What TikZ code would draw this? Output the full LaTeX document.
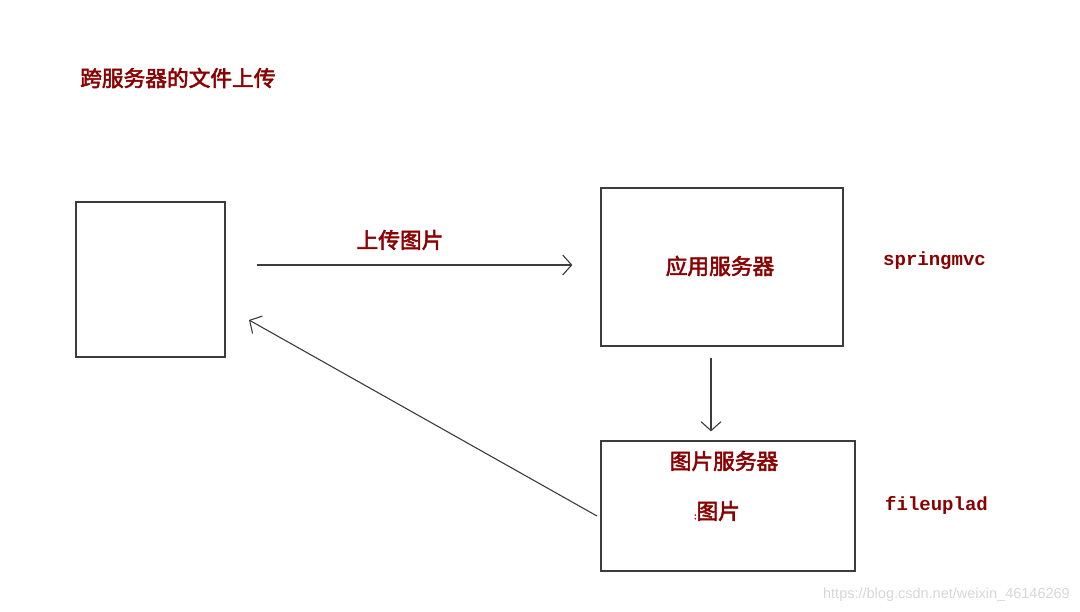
\documentclass[tikz,border=0pt]{standalone}
\usepackage{fontspec}
\newfontfamily\cjk{Noto Sans CJK SC}[AutoFakeBold=2.5]
\newfontfamily\monob{Liberation Mono}
\setsansfont{Liberation Sans}
\usetikzlibrary{arrows.meta}
\definecolor{dred}{RGB}{139,0,0}
\definecolor{lnc}{RGB}{60,60,60}
\definecolor{wm}{RGB}{215,215,215}
\begin{document}
\begin{tikzpicture}[x=1pt,y=-1pt,
  box/.style={draw=lnc,line width=1.2pt,inner sep=0pt},
  arr/.style={draw=lnc,line width=1.1pt,-{Straight Barb[length=9pt,width=20pt,line width=1.1pt]}},
  cn/.style={text=dred,font=\cjk\bfseries\fontsize{21.7}{24}\selectfont,inner sep=0pt},
  mn/.style={text=dred,font=\monob\bfseries\fontsize{19}{20}\selectfont,inner sep=0pt,anchor=west}]
\useasboundingbox (0,0) rectangle (1080,612);
\fill[white] (0,0) rectangle (1080,612);
\node[cn,anchor=west] (title) at (80,78) {跨服务器的文件上传};
\node[box,minimum width=149pt,minimum height=155pt] (client) at (150.5,279.5) {};
\node[box,minimum width=242pt,minimum height=158pt] (app) at (722,267) {};
\node[box,minimum width=254pt,minimum height=130pt] (img) at (728,506) {};
\node[cn] (appt) at (720,266) {应用服务器};
\node[cn] (imgt) at (724,461) {图片服务器};
\node[cn] (pic) at (717,511) {{\fontsize{9}{9}\selectfont:}图片};
\node[mn] (smvc) at (883,261) {springmvc};
\node[mn] (fup) at (885,505) {fileuplad};
\node[cn] (upl) at (400,240) {上传图片};
\coordinate (dstart) at (597,516);
\coordinate (dend) at (249,320);
\draw[arr,shorten <=31pt,shorten >=28pt] ([yshift=2pt]client.east |- app.west) -- ([yshift=2pt]app.west);
\draw[arr,shorten <=11pt,shorten >=9pt] ([xshift=-11pt]app.south) -- ([xshift=-11pt]app.south |- img.north);
\draw[arr] (dstart) -- (dend);
\node[text=wm,font=\sffamily\fontsize{14.5}{16}\selectfont,anchor=east,inner sep=0pt] (wmark) at (1070,595) {https://blog.csdn.net/weixin\_46146269};
\end{tikzpicture}
\end{document}
